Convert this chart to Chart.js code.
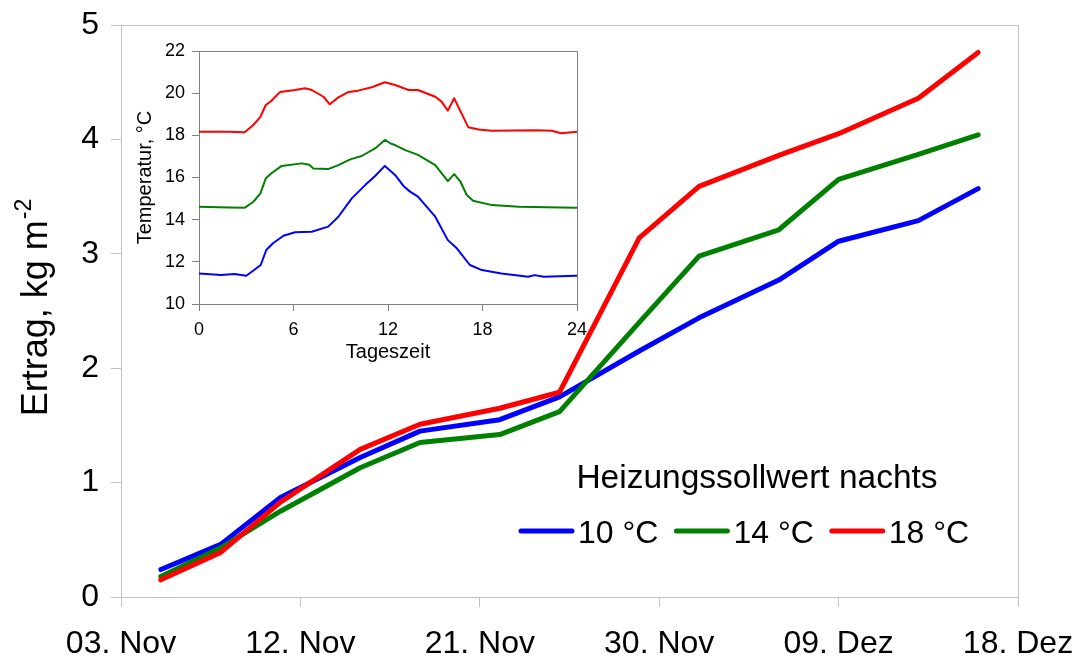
<!DOCTYPE html>
<html>
<head>
<meta charset="utf-8">
<script src="https://cdn.jsdelivr.net/npm/chart.js@4.4.0/dist/chart.umd.min.js"></script>
<style>
  body { margin: 0; background: #fff; }
  #wrap { position: relative; width: 1081px; height: 661px; }
  #main { position: absolute; left: 0; top: 0; }
  #inset { position: absolute; left: 125px; top: 35px; }
</style>
</head>
<body>
<div id="wrap">
  <canvas id="main" width="1081" height="661"></canvas>
  <canvas id="inset" width="470" height="335"></canvas>
</div>
<script>
// Ertrag (kg m-2), sample dates as days after 03. Nov
const sampleDays = [2, 5, 8, 12, 15, 19, 22, 26, 29, 33, 36, 40, 43];
const yield10 = [0.24, 0.46, 0.87, 1.22, 1.45, 1.55, 1.75, 2.15, 2.44, 2.77, 3.11, 3.29, 3.57];
const yield14 = [0.18, 0.43, 0.75, 1.13, 1.35, 1.42, 1.62, 2.40, 2.98, 3.21, 3.65, 3.87, 4.04];
const yield18 = [0.15, 0.39, 0.83, 1.29, 1.51, 1.65, 1.79, 3.14, 3.59, 3.86, 4.05, 4.36, 4.76];
const xTickLabels = ['03. Nov', '12. Nov', '21. Nov', '30. Nov', '09. Dez', '18. Dez'];
const seriesLabels = ['10 °C', '14 °C', '18 °C'];
const seriesColors = ['#0000ff', '#008000', '#ff0000'];
const legendTitle = 'Heizungssollwert nachts';

// inset: temperature over the day
const hours10 = [0, 1.4, 2.25, 3.0, 3.5, 3.92, 4.27, 4.7, 5.36, 6.1, 7.16, 8.2, 8.85, 9.7, 10.55, 11.18, 11.8, 12.45, 12.98, 13.4, 13.9, 15.0, 15.8, 16.37, 17.2, 17.96, 19.2, 20.9, 21.3, 21.9, 23.9, 24];
const temp10 = [11.45, 11.37, 11.42, 11.34, 11.61, 11.85, 12.56, 12.88, 13.24, 13.4, 13.43, 13.67, 14.14, 15.01, 15.64, 16.07, 16.55, 16.12, 15.6, 15.33, 15.09, 14.14, 13.03, 12.64, 11.85, 11.61, 11.45, 11.29, 11.37, 11.29, 11.34, 11.34];
const hours14 = [0, 1.9, 2.9, 3.45, 3.9, 4.24, 4.6, 5.25, 6.52, 7.0, 7.26, 8.2, 8.85, 9.6, 10.33, 11.18, 11.8, 12.2, 12.45, 13.1, 13.9, 15.0, 15.8, 16.2, 16.6, 17.0, 17.4, 18.6, 20.3, 23.9, 24];
const temp14 = [14.61, 14.58, 14.56, 14.85, 15.25, 15.96, 16.2, 16.55, 16.67, 16.6, 16.43, 16.4, 16.59, 16.86, 17.02, 17.38, 17.78, 17.6, 17.54, 17.3, 17.07, 16.59, 15.83, 16.16, 15.8, 15.17, 14.9, 14.69, 14.61, 14.57, 14.56];
const hours18 = [0, 1.9, 2.9, 3.45, 3.9, 4.24, 4.6, 5.15, 6.1, 6.73, 7.16, 7.9, 8.3, 8.85, 9.5, 10.1, 10.97, 11.8, 12.45, 13.3, 13.9, 15.0, 15.4, 15.8, 16.2, 17.1, 17.75, 18.6, 21.35, 22.4, 23.0, 24];
const temp18 = [18.17, 18.17, 18.15, 18.49, 18.88, 19.44, 19.64, 20.06, 20.15, 20.23, 20.15, 19.83, 19.47, 19.8, 20.06, 20.12, 20.28, 20.52, 20.39, 20.15, 20.15, 19.83, 19.6, 19.17, 19.76, 18.38, 18.28, 18.22, 18.24, 18.22, 18.1, 18.17];

const FONT = "'Liberation Sans', Arial, sans-serif";
Chart.defaults.font.family = FONT;
Chart.defaults.color = '#000';

const pts = (xs, ys) => xs.map((x, i) => ({ x, y: ys[i] }));

// keep label overhang from shrinking the plot area
const noPad = s => { s.paddingTop = 0; s.paddingBottom = 0; s.paddingLeft = 0; s.paddingRight = 0; };

// top and right edge of the plot area
const frame = {
  id: 'frame',
  beforeDatasetsDraw(chart, args, opts) {
    const { ctx, chartArea: a } = chart;
    ctx.save();
    ctx.strokeStyle = opts.color;
    ctx.lineWidth = 1;
    ctx.beginPath();
    ctx.moveTo(a.left, Math.round(a.top) + 0.5);
    ctx.lineTo(Math.round(a.right) + 0.5, Math.round(a.top) + 0.5);
    ctx.lineTo(Math.round(a.right) + 0.5, a.bottom);
    ctx.stroke();
    ctx.restore();
  }
};

// y title with superscript
const yTitle = {
  id: 'yTitle',
  afterDraw(chart) {
    const ctx = chart.ctx;
    ctx.save();
    ctx.translate(47, 308);
    ctx.rotate(-Math.PI / 2);
    ctx.fillStyle = '#000';
    ctx.textBaseline = 'alphabetic';
    ctx.font = '36px ' + FONT;
    const main = 'Ertrag, kg m';
    const w1 = ctx.measureText(main).width;
    ctx.font = '23px ' + FONT;
    const w2 = ctx.measureText('-2').width;
    const x0 = -(w1 + w2) / 2;
    ctx.font = '36px ' + FONT;
    ctx.fillText(main, x0, 0);
    ctx.font = '23px ' + FONT;
    ctx.fillText('-2', x0 + w1 + 1, -16);
    ctx.restore();
  }
};

// legend inside the plot
const innerLegend = {
  id: 'innerLegend',
  afterDatasetsDraw(chart) {
    const ctx = chart.ctx;
    ctx.save();
    ctx.fillStyle = '#000';
    ctx.textBaseline = 'alphabetic';
    ctx.font = '33.5px ' + FONT;
    ctx.textAlign = 'center';
    ctx.fillText(legendTitle, 757, 488);
    ctx.textAlign = 'left';
    ctx.font = '32px ' + FONT;
    let x = 521;
    seriesLabels.forEach((lab, i) => {
      ctx.strokeStyle = seriesColors[i];
      ctx.lineWidth = 5;
      ctx.lineCap = 'round';
      ctx.beginPath();
      ctx.moveTo(x, 531);
      ctx.lineTo(x + 51, 531);
      ctx.stroke();
      ctx.fillText(lab, x + 57, 543);
      x += 57 + ctx.measureText(lab).width + 18;
    });
    ctx.restore();
  }
};

new Chart(document.getElementById('main'), {
  type: 'line',
  data: {
    datasets: [yield10, yield14, yield18].map((ys, i) => ({
      label: seriesLabels[i],
      data: pts(sampleDays, ys),
      borderColor: seriesColors[i],
      borderWidth: 5,
      order: 3 - i
    }))
  },
  options: {
    responsive: false,
    animation: false,
    devicePixelRatio: 1,
    layout: { padding: { top: 25, right: 63, left: 0, bottom: 0 } },
    elements: {
      point: { radius: 0 },
      line: { tension: 0, borderCapStyle: 'round', borderJoinStyle: 'round' }
    },
    plugins: {
      legend: { display: false },
      tooltip: { enabled: false },
      frame: { color: '#c0c0c0' }
    },
    scales: {
      x: {
        type: 'linear', min: 0, max: 45,
        ticks: {
          stepSize: 9, autoSkip: false, maxRotation: 0, padding: 18,
          font: { size: 32 },
          callback: v => xTickLabels[Math.round(v / 9)]
        },
        grid: { drawOnChartArea: false, color: '#c0c0c0', tickLength: 10 },
        border: { color: '#c0c0c0' },
        afterFit: s => { s.height = 64; noPad(s); }
      },
      y: {
        min: 0, max: 5,
        ticks: { stepSize: 1, padding: 12, font: { size: 32 } },
        grid: { drawOnChartArea: false, color: '#c0c0c0', tickLength: 10 },
        border: { color: '#c0c0c0' },
        afterFit: s => { s.width = 121; noPad(s); }
      }
    }
  },
  plugins: [frame, yTitle, innerLegend]
});

new Chart(document.getElementById('inset'), {
  type: 'line',
  data: {
    datasets: [[hours10, temp10], [hours14, temp14], [hours18, temp18]].map((s, i) => ({
      label: seriesLabels[i],
      data: pts(s[0], s[1]),
      borderColor: seriesColors[i],
      borderWidth: 2
    }))
  },
  options: {
    responsive: false,
    animation: false,
    devicePixelRatio: 1,
    layout: { padding: { top: 16, right: 18, left: 0, bottom: 0 } },
    elements: {
      point: { radius: 0 },
      line: { tension: 0, borderJoinStyle: 'round' }
    },
    plugins: {
      legend: { display: false },
      tooltip: { enabled: false },
      frame: { color: '#808080' }
    },
    scales: {
      x: {
        type: 'linear', min: 0, max: 24,
        ticks: { stepSize: 6, autoSkip: false, maxRotation: 0, padding: 8, font: { size: 18 } },
        title: { display: true, text: 'Tageszeit', font: { size: 20 }, padding: { top: 0, bottom: 6 } },
        grid: { drawOnChartArea: false, color: '#808080', tickLength: 7 },
        border: { color: '#808080' },
        afterFit: s => { s.height = 66; noPad(s); }
      },
      y: {
        min: 10, max: 22,
        ticks: { stepSize: 2, padding: 7, font: { size: 18 } },
        title: { display: true, text: 'Temperatur, °C', font: { size: 20 }, padding: { top: 8, bottom: 0 } },
        grid: { drawOnChartArea: false, color: '#808080', tickLength: 7 },
        border: { color: '#808080' },
        afterFit: s => { s.width = 74; noPad(s); }
      }
    }
  },
  plugins: [frame]
});
</script>
</body>
</html>
